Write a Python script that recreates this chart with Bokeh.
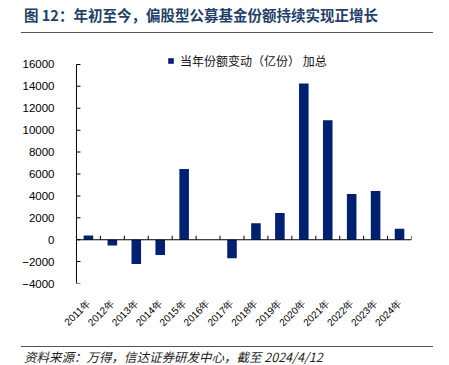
import math
from bokeh.plotting import figure
from bokeh.models import (Range1d, FixedTicker, ColumnDataSource,
                          Legend, LegendItem, Div)
from bokeh.layouts import column
from bokeh.embed import file_html
from bokeh.resources import INLINE

# ---- data ----
years = ["2011年", "2012年", "2013年", "2014年", "2015年", "2016年", "2017年",
         "2018年", "2019年", "2020年", "2021年", "2022年", "2023年", "2024年"]
changes = [390, -520, -2230, -1400, 6450, 0, -1700, 1490, 2430, 14270, 10900, 4170, 4450, 1000]
y_ticks = [-4000, -2000, 0, 2000, 4000, 6000, 8000, 10000, 12000, 14000, 16000]
series_name = "当年份额变动（亿份） 加总"
title_text = "图 12：年初至今，偏股型公募基金份额持续实现正增长"
source_text = "资料来源：万得，信达证券研发中心，截至 2024/4/12"

n = len(years)
centers = [i + 0.5 for i in range(n)]
bounds = [float(i) for i in range(n + 1)]

W, H = 433, 302
BL, BR, BT, BB = 75, 22, 14, 58
x0, x1 = -0.04, float(n)
y0, y1 = float(y_ticks[0]), 17000.0

src = ColumnDataSource(dict(x=centers, top=changes, year=years))

p = figure(width=W, height=H, output_backend="svg", toolbar_location=None,
           x_range=Range1d(x0, x1), y_range=Range1d(y0, y1),
           min_border_left=BL, min_border_right=BR, min_border_top=BT,
           min_border_bottom=BB)
p.outline_line_color = None
p.xgrid.visible = False
p.ygrid.visible = False
p.background_fill_color = None
p.border_fill_color = "white"

r = p.vbar(x="x", top="top", bottom=0, width=0.4, source=src,
           fill_color="#002070", line_color=None)

# 4px tick length expressed through the scales
tick_dx = 4 * (x1 - x0) / (W - BL - BR)
tick_dy = 4 * (y1 - y0) / (H - BT - BB)
ny, nb = len(y_ticks), len(bounds)

# value axis line (1px wide) and inward ticks at x = 0
p.rect(x=[0], y=[(y_ticks[0] + y_ticks[-1]) / 2], width=[1],
       height=[y_ticks[-1] - y_ticks[0]], width_units="screen",
       fill_color="black", line_color=None)
p.rect(x=[tick_dx / 2] * ny, y=y_ticks, width=[tick_dx] * ny, height=[1] * ny,
       height_units="screen", fill_color="black", line_color=None)
# category axis line at y = 0 with ticks at category boundaries
p.rect(x=[(bounds[0] + bounds[-1]) / 2], y=[0], width=[bounds[-1] - bounds[0]],
       height=[1], height_units="screen", fill_color="black", line_color=None)
p.rect(x=bounds, y=[tick_dy / 2] * nb, width=[1] * nb, height=[tick_dy] * nb,
       width_units="screen", fill_color="black", line_color=None)

# y axis labels
ya = p.yaxis[0]
ya.ticker = FixedTicker(ticks=y_ticks)
ya.axis_line_color = None
ya.major_tick_line_color = None
ya.minor_tick_line_color = None
ya.major_label_text_font = "Liberation Sans"
ya.major_label_text_font_size = "11.5px"
ya.major_label_text_color = "black"
ya.major_label_standoff = 15

# x axis labels at category centers
xa = p.xaxis[0]
xa.ticker = FixedTicker(ticks=centers)
xa.major_label_overrides = {c: y for c, y in zip(centers, years)}
xa.major_label_orientation = math.pi / 4
xa.axis_line_color = None
xa.major_tick_line_color = None
xa.minor_tick_line_color = None
xa.major_label_text_font = "Liberation Sans"
xa.major_label_text_font_size = "10px"
xa.major_label_text_color = "black"
xa.major_label_standoff = 12

legend = Legend(items=[LegendItem(label=series_name, renderers=[r])],
                location=(92, 214), orientation="horizontal",
                border_line_color=None, background_fill_alpha=0,
                padding=0, margin=0, glyph_width=7, glyph_height=7,
                label_standoff=6, label_text_font="Noto Sans CJK SC",
                label_text_font_size="12px", label_text_color="#111111")
p.add_layout(legend)

title_html = (
    '<div style="position:relative;width:433px;height:29px;">'
    '<div style="position:absolute;left:19px;top:0px;font-family:\'Noto Sans CJK SC\';'
    'font-size:14.5px;font-weight:bold;color:#243F66;line-height:20px;white-space:nowrap;">'
    + title_text + '</div>'
    '<div style="position:absolute;left:16px;top:27px;width:412px;height:0;'
    'border-top:1.5px solid #555555;"></div></div>'
)
source_html = (
    '<div style="position:relative;width:433px;height:18px;">'
    '<div style="position:absolute;left:16px;top:0px;width:412px;height:0;'
    'border-top:1.5px solid #555555;"></div>'
    '<div style="position:absolute;left:19px;top:3px;font-family:\'Noto Sans CJK SC\';'
    'font-size:12.5px;font-style:italic;color:#222222;line-height:15px;white-space:nowrap;">'
    + source_text + '</div></div>'
)
title_div = Div(text=title_html, width=433, height=29)
source_div = Div(text=source_html, width=433, height=18)

layout = column(title_div, p, source_div, spacing=0)
open("out.html", "w").write(file_html(layout, INLINE))
